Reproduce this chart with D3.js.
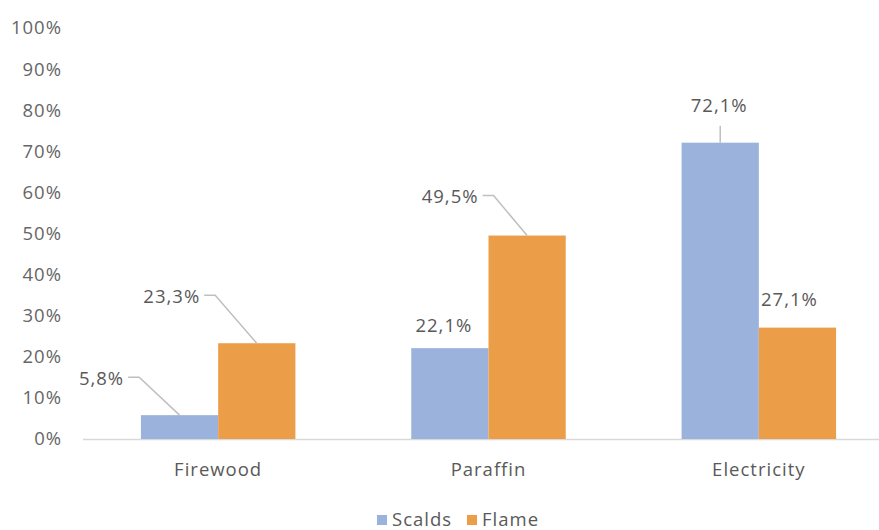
<!DOCTYPE html>
<html>
<head>
<meta charset="utf-8">
<script src="https://cdn.jsdelivr.net/npm/d3@7"></script>
<style>
  body { margin: 0; background: #fff; }
  text { font-family: "Open Sans", "Noto Sans", sans-serif; fill: #595959; letter-spacing: 1px; }
</style>
</head>
<body>
<div id="chart"></div>
<script>
// data
const categories = ['Firewood', 'Paraffin', 'Electricity'];
const seriesNames = ['Scalds', 'Flame'];
const scalds = [5.8, 22.1, 72.1];
const flame  = [23.3, 49.5, 27.1];
const yTicks = [0, 10, 20, 30, 40, 50, 60, 70, 80, 90, 100];

// label placement relative to bar top (dx, dy of label centre; leader line type)
const labelPlacement = {
  Scalds: [ { dx: -78, dy: -37, leader: true }, { dx: -6, dy: -23, leader: false }, { dx: -1, dy: -37, leader: 'v' } ],
  Flame:  [ { dx: -85, dy: -47, leader: true }, { dx: -77, dy: -39, leader: true }, { dx: -8, dy: -28, leader: false } ]
};

const width = 879, height = 530;
const margin = { top: 28, right: -15, bottom: 91, left: 83 };
const colors = { Scalds: '#9bb2dc', Flame: '#eb9d47' };
const fontSize = '18.5px';

const svg = d3.select('#chart').append('svg')
    .attr('width', width)
    .attr('height', height);

const x = d3.scaleBand()
  .domain(categories)
  .range([margin.left, width - margin.right]);

const inner = d3.scaleBand()
  .domain(seriesNames)
  .range([0, x.bandwidth()])
  .paddingOuter(0.75)
  .paddingInner(0);

const y = d3.scaleLinear()
  .domain([0, 100])
  .range([height - margin.bottom, margin.top]);

// y tick labels
svg.append('g')
  .selectAll('text')
  .data(yTicks)
  .join('text')
    .attr('x', 62)
    .attr('y', d => y(d))
    .attr('dy', '0.35em')
    .attr('text-anchor', 'end')
    .style('font-size', fontSize)
    .style('fill', '#666')
    .text(d => d + '%');

// baseline
svg.append('line')
  .attr('x1', margin.left).attr('x2', width)
  .attr('y1', y(0) + 0.5).attr('y2', y(0) + 0.5)
  .attr('stroke', '#d9d9d9')
  .attr('stroke-width', 1.5);

const rows = [];
categories.forEach((c, i) => {
  rows.push({ cat: c, series: 'Scalds', val: scalds[i], idx: i });
  rows.push({ cat: c, series: 'Flame', val: flame[i], idx: i });
});

// bars
svg.append('g')
  .selectAll('rect')
  .data(rows)
  .join('rect')
    .attr('x', d => x(d.cat) + inner(d.series))
    .attr('y', d => y(d.val))
    .attr('width', inner.bandwidth())
    .attr('height', d => y(0) - y(d.val))
    .attr('fill', d => colors[d.series]);

// data labels + leader lines
const lbl = svg.append('g');
rows.forEach(d => {
  const p = labelPlacement[d.series][d.idx];
  const bx = x(d.cat) + inner(d.series) + inner.bandwidth() / 2;
  const by = y(d.val);
  const lx = bx + p.dx, ly = by + p.dy;
  const t = lbl.append('text')
    .attr('x', lx)
    .attr('y', ly)
    .attr('dy', '0.35em')
    .attr('text-anchor', 'middle')
    .style('font-size', fontSize)
    .text(d3.format('.1f')(d.val).replace('.', ',') + '%');
  if (p.leader === true) {
    const w = t.node().getComputedTextLength();
    const sx = lx + w / 2 + 4;
    lbl.append('path')
      .attr('d', `M${sx},${ly - 1}H${sx + 11}L${bx},${by}`)
      .attr('fill', 'none')
      .attr('stroke', '#bfbfbf')
      .attr('stroke-width', 1.5);
  } else if (p.leader === 'v') {
    lbl.append('path')
      .attr('d', `M${bx},${ly + 20}L${bx},${by}`)
      .attr('stroke', '#bfbfbf')
      .attr('stroke-width', 1.5);
  }
});

// category labels
svg.append('g')
  .selectAll('text')
  .data(categories)
  .join('text')
    .attr('x', d => x(d) + x.bandwidth() / 2)
    .attr('y', y(0) + 31)
    .attr('dy', '0.35em')
    .attr('text-anchor', 'middle')
    .style('font-size', fontSize)
    .text(d => d);

// legend
const legend = svg.append('g')
  .attr('transform', 'translate(377,520)');
const legendX = [0, 90];
seriesNames.forEach((s, i) => {
  const g = legend.append('g').attr('transform', `translate(${legendX[i]},0)`);
  g.append('rect')
    .attr('x', 0).attr('y', -5)
    .attr('width', 10).attr('height', 10)
    .attr('fill', colors[s]);
  g.append('text')
    .attr('x', 15).attr('y', 0)
    .attr('dy', '0.35em')
    .style('font-size', fontSize)
    .text(s);
});
</script>
</body>
</html>
